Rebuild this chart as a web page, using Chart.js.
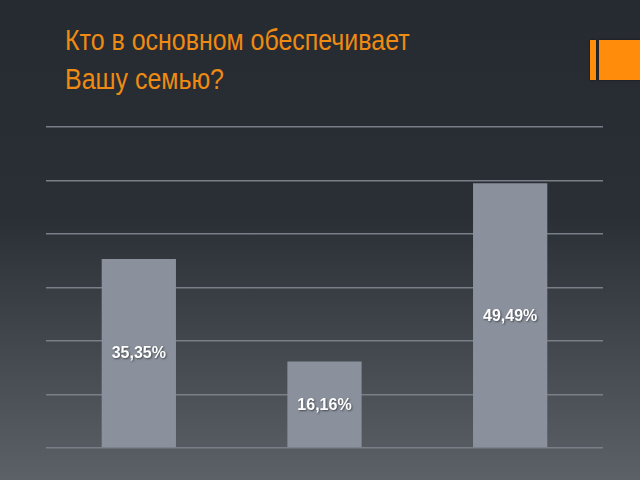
<!DOCTYPE html>
<html>
<head>
<meta charset="utf-8">
<script src="https://cdn.jsdelivr.net/npm/chart.js@4/dist/chart.umd.min.js"></script>
<style>
  html, body { margin: 0; padding: 0; }
  body {
    width: 640px; height: 480px; overflow: hidden; position: relative;
    background: linear-gradient(to bottom, #262b31 0%, #2a2f35 45%, #5c6168 100%);
  }
  #title {
    position: absolute; left: 65px; top: 21px;
    font-family: "Liberation Sans", Arial, sans-serif; font-size: 29px;
    line-height: 39px; color: #ef8a12; white-space: nowrap;
    transform-origin: 0 0; transform: scaleX(0.86);
  }
  .mark { position: absolute; background: #ff8c0a; box-shadow: 0 0 2px #111; }
  #chartBox { position: absolute; left: 0; top: 0; width: 640px; height: 480px; }
</style>
</head>
<body>
<div id="title">Кто в основном обеспечивает<br>Вашу семью?</div>
<div class="mark" style="left:590px; top:40px; width:6px; height:40px;"></div>
<div class="mark" style="left:599px; top:40px; width:41px; height:40px;"></div>
<div id="chartBox"><canvas id="myChart" width="640" height="480"></canvas></div>
<script>
document.addEventListener("DOMContentLoaded", function() {

    var categories = ['Отец', 'Мать', 'Оба родителя'];
    var values = [35.35, 16.16, 49.49];
    var yTicks = [0, 10, 20, 30, 40, 50, 60];

    // подписи значений внутри столбцов
    var valueLabels = {
        id: 'valueLabels',
        afterDatasetsDraw: function(chart) {
            var ctx = chart.ctx;
            var meta = chart.getDatasetMeta(0);
            ctx.save();
            ctx.font = 'bold 16px "Liberation Sans", Arial, sans-serif';
            ctx.fillStyle = '#ffffff';
            ctx.textAlign = 'center';
            ctx.textBaseline = 'middle';
            ctx.shadowColor = 'rgba(0,0,0,0.5)';
            ctx.shadowBlur = 2;
            ctx.shadowOffsetX = 1;
            ctx.shadowOffsetY = 1;
            meta.data.forEach(function(bar, i) {
                var txt = values[i].toFixed(2).replace('.', ',') + '%';
                ctx.fillText(txt, bar.x, (bar.y + bar.base) / 2 + 1);
            });
            ctx.restore();
        }
    };

    var ctx = document.getElementById('myChart').getContext('2d');
    new Chart(ctx, {
        type: 'bar',
        data: {
            labels: categories,
            datasets: [{
                data: values,
                backgroundColor: '#8a919c',
                barPercentage: 0.4,
                categoryPercentage: 1.0
            }]
        },
        options: {
            responsive: false,
            animation: false,
            layout: { padding: { left: 46, right: 37, top: 127, bottom: 32 } },
            scales: {
                x: {
                    display: false
                },
                y: {
                    min: yTicks[0],
                    max: yTicks[yTicks.length - 1],
                    afterBuildTicks: function(axis) {
                        axis.ticks = yTicks.map(function(v) { return { value: v }; });
                    },
                    ticks: { display: false },
                    grid: { color: '#787f88', lineWidth: 1.5, drawTicks: false },
                    border: { display: false }
                }
            },
            plugins: {
                legend: { display: false },
                tooltip: { enabled: false }
            }
        },
        plugins: [valueLabels]
    });
});
</script>
</body>
</html>
